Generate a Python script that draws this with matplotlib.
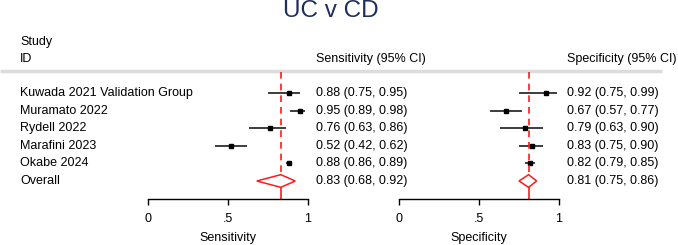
import matplotlib
matplotlib.use("Agg")
import matplotlib.pyplot as plt
import numpy as np

plt.rcParams["font.family"] = ["Liberation Sans", "DejaVu Sans"]

# ── data ─────────────────────────────────────────────────────────────────────
studies = ["Kuwada 2021 Validation Group", "Muramato 2022", "Rydell 2022",
           "Marafini 2023", "Okabe 2024"]
sens = [0.88, 0.95, 0.76, 0.52, 0.88]
sens_lo = [0.75, 0.89, 0.63, 0.42, 0.86]
sens_hi = [0.95, 0.98, 0.86, 0.62, 0.89]
spec = [0.92, 0.67, 0.79, 0.83, 0.82]
spec_lo = [0.75, 0.57, 0.63, 0.75, 0.79]
spec_hi = [0.99, 0.77, 0.90, 0.90, 0.85]
pooled_sens = (0.83, 0.68, 0.92)
pooled_spec = (0.81, 0.75, 0.86)
xticks = [0, 0.5, 1]
xticklabels = ["0", ".5", "1"]

# ── layout (pixels) ──────────────────────────────────────────────────────────
W, H = 678, 245
ROW0, STEP = 93, 17.6      # pixel centre of first row, row spacing
AX_TOP, AX_BOT = 72, 199   # panel top / axis line


def px2row(y):
    return (y - ROW0) / STEP


fig = plt.figure(figsize=(W / 100, H / 100), dpi=100)

# overlay for text, x in pixels, y in row units
ov = fig.add_axes([0, 0, 1, 1])
ov.set_xlim(0, W)
ov.set_ylim(px2row(H), px2row(0))
ov.axis("off")

FS = 9
navy = "#1f2d5c"
ov.text(331, px2row(11), "UC v CD", ha="center", va="center",
        fontsize=17.5, color=navy)
ov.text(20, px2row(42), "Study", ha="left", va="center", fontsize=FS)
ov.text(20, px2row(59), "ID", ha="left", va="center", fontsize=FS)
ov.text(316, px2row(59), "Sensitivity (95% CI)", ha="left", va="center", fontsize=FS)
ov.text(567, px2row(59), "Specificity (95% CI)", ha="left", va="center", fontsize=FS)
ov.plot([0, 662], [px2row(71.5)] * 2, color="#dcdcdc", lw=2.5, solid_capstyle="butt")

n = len(studies)
for i, name in enumerate(studies):
    ov.text(20, i, name, ha="left", va="center", fontsize=FS)
    ov.text(316, i, f"{sens[i]:.2f} ({sens_lo[i]:.2f}, {sens_hi[i]:.2f})",
            ha="left", va="center", fontsize=FS)
    ov.text(567, i, f"{spec[i]:.2f} ({spec_lo[i]:.2f}, {spec_hi[i]:.2f})",
            ha="left", va="center", fontsize=FS)
ov.text(20, n, "Overall", ha="left", va="center", fontsize=FS)
ov.text(316, n, "{:.2f} ({:.2f}, {:.2f})".format(*pooled_sens),
        ha="left", va="center", fontsize=FS)
ov.text(567, n, "{:.2f} ({:.2f}, {:.2f})".format(*pooled_spec),
        ha="left", va="center", fontsize=FS)
ov.text(228, px2row(238), "Sensitivity", ha="center", va="center", fontsize=FS)
ov.text(479, px2row(238), "Specificity", ha="center", va="center", fontsize=FS)


def panel(x0, est, lo, hi, pooled):
    ax = fig.add_axes([x0 / W, (H - AX_BOT) / H, 160 / W, (AX_BOT - AX_TOP) / H])
    ax.set_xlim(0, 1)
    ax.set_ylim(px2row(AX_BOT), px2row(AX_TOP))
    ax.patch.set_visible(False)
    for s in ["top", "right", "left"]:
        ax.spines[s].set_visible(False)
    ax.spines["bottom"].set_linewidth(1.0)
    ax.set_yticks([])
    ax.set_xticks(xticks)
    ax.set_xticklabels(xticklabels, fontsize=FS)
    ax.tick_params(axis="x", length=4, width=1.0, pad=6)

    rows = np.arange(len(est))
    ax.hlines(rows, lo, hi, color="#2e2e2e", lw=1.3)
    ax.plot(est, rows, "s", color="black", ms=3.0)

    m, l, h = pooled
    ax.vlines(m, px2row(AX_TOP), n - 0.36, color="#ff1a1a", lw=1.2,
              linestyles=(0, (4, 3)))
    ax.vlines(m, n + 0.36, px2row(AX_BOT), color="#ff1a1a", lw=1.2)
    ax.fill([l, m, h, m, l], [n, n - 0.36, n, n + 0.36, n],
            facecolor="none", edgecolor="#ff1a1a", lw=1.1)
    return ax


panel(148, sens, sens_lo, sens_hi, pooled_sens)
panel(399, spec, spec_lo, spec_hi, pooled_spec)

fig.savefig("out.png", dpi=100)
